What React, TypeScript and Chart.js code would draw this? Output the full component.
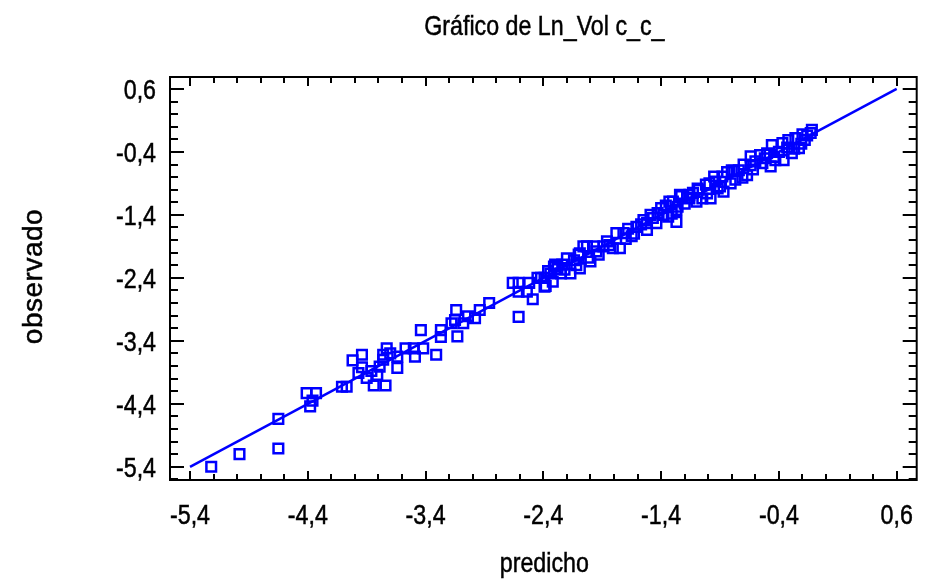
import { useEffect, useRef } from 'react';
import { Chart, registerables } from 'chart.js';

Chart.register(...registerables);

const chartTitle = 'Gráfico de Ln_Vol c_c_';
const xTitle = 'predicho';
const yTitle = 'observado';
const axisTicks = [-5.4, -4.4, -3.4, -2.4, -1.4, -0.4, 0.6];
const minorStep = 0.2;

const predicho = [
  -5.22, -4.98, -4.65, -4.65, -4.41, -4.33, -4.36, -4.38, -4.11, -4.07,
  -4.02, -3.94, -3.94, -3.97, -3.90, -3.84, -3.74, -3.81, -3.79, -3.76,
  -3.76, -3.73, -3.64, -3.64, -3.57, -3.50, -3.49, -3.42, -3.31, -3.44,
  -3.27, -3.27, -3.18, -3.13, -3.14, -3.15, -3.08, -3.04, -2.98, -2.94,
  -2.86, -2.61, -3.86, -3.70,
  -2.66, -2.61, -2.52, -2.61, -2.54, -2.49, -2.45, -2.39, -2.38, -2.34,
  -2.31, -2.42, -2.39, -2.32, -2.30, -2.24, -2.20, -2.25, -2.17, -2.09,
  -2.06, -1.97, -1.89, -2.09, -2.00, -1.93, -1.81, -1.75, -1.78, -1.72,
  -1.65, -1.61, -1.52, -1.52, -1.44, -1.43, -1.40, -1.33, -1.27, -1.34,
  -1.27, -1.24, -1.16, -1.10, -1.05, -0.98, -1.09, -0.99, -0.87, -1.30,
  -1.23, -1.16, -1.26, -1.08, -1.02, -0.94, -0.95, -0.88, -0.81, -0.80,
  -0.74, -0.67, -0.77, -0.71, -0.64, -0.56, -0.50, -0.64, -0.54, -0.47,
  -0.43, -0.36, -0.46, -0.37, -0.32, -0.29, -0.23, -0.26, -0.18, -0.13,
  -0.12,
  -2.28, -2.14, -2.12, -1.95, -1.86, -1.68, -1.57, -1.47, -1.38, -1.20,
  -1.13, -0.90, -0.84, -0.60, -0.52, -0.40, -0.33, -0.21, -0.16, -2.03,
  -2.10, -1.70, -1.55, -1.36, -0.70,
  -2.36, -2.22, -2.02, -1.84, -1.63, -1.49, -1.31, -1.18, -1.01, -0.92,
  -0.78, -0.62, -0.44, -0.27, -0.20,
];

const observado = [
  -5.40, -5.20, -5.11, -4.64, -4.23, -4.23, -4.35, -4.44, -4.13, -4.13,
  -3.71, -3.62, -3.82, -3.91, -3.99, -4.11, -4.11, -3.94, -3.81, -3.70,
  -3.62, -3.52, -3.65, -3.83, -3.52, -3.52, -3.65, -3.52, -3.62, -3.23,
  -3.23, -3.34, -3.12, -3.33, -2.91, -3.07, -3.12, -3.01, -3.04, -2.91,
  -2.80, -3.02, -3.88, -3.60,
  -2.48, -2.48, -2.48, -2.62, -2.62, -2.74, -2.40, -2.40, -2.53, -2.33,
  -2.22, -2.40, -2.54, -2.46, -2.19, -2.19, -2.09, -2.33, -2.33, -2.25,
  -1.90, -1.90, -1.90, -2.01, -2.14, -2.03, -1.93, -1.93, -1.69, -1.69,
  -1.74, -1.59, -1.53, -1.64, -1.53, -1.37, -1.29, -1.19, -1.51, -1.43,
  -1.32, -1.08, -1.08, -1.19, -1.14, -1.14, -0.98, -0.90, -1.03, -1.19,
  -1.10, -1.14, -1.27, -1.00, -0.92, -0.87, -0.79, -0.79, -0.90, -0.69,
  -0.69, -0.77, -0.84, -0.81, -0.47, -0.45, -0.42, -0.61, -0.58, -0.63,
  -0.53, -0.53, -0.29, -0.26, -0.21, -0.42, -0.34, -0.18, -0.21, -0.10,
  -0.05,
  -2.26, -2.12, -2.20, -1.98, -1.82, -1.62, -1.55, -1.45, -1.40, -1.22,
  -1.05, -0.95, -0.72, -0.55, -0.50, -0.40, -0.33, -0.27, -0.14, -1.90,
  -2.03, -1.78, -1.48, -1.25, -0.60,
  -2.29, -2.27, -2.08, -1.88, -1.70, -1.40, -1.38, -1.13, -1.06, -0.98,
  -0.70, -0.68, -0.48, -0.35, -0.12,
];

const lineX = [-5.4, 0.6];
const lineY = [-5.4, 0.6];

const BLUE = 'rgb(0,0,255)';
const FONT = "'Liberation Sans', Arial, sans-serif";

const fmt = (v: number) => v.toFixed(1).replace('.', ',');

function squeezedText(
  ctx: CanvasRenderingContext2D,
  text: string,
  x: number,
  y: number,
  align: CanvasTextAlign,
  size: number,
  sx: number,
) {
  ctx.save();
  ctx.font = `${size}px ${FONT}`;
  ctx.fillStyle = '#000';
  ctx.strokeStyle = '#000';
  ctx.lineWidth = 0.5;
  ctx.textAlign = align;
  ctx.textBaseline = 'alphabetic';
  ctx.translate(x, y);
  ctx.scale(sx, 1);
  ctx.fillText(text, 0, 0);
  ctx.strokeText(text, 0, 0);
  ctx.restore();
}

const framePlugin = {
  id: 'frameTicks',
  afterDraw(chart: any) {
    const { ctx, chartArea } = chart;
    const { left, right, top, bottom } = chartArea;
    const xs = chart.scales.x;
    const ys = chart.scales.y;
    ctx.save();
    ctx.strokeStyle = '#000';
    ctx.lineWidth = 2;
    ctx.strokeRect(left, top, right - left, bottom - top);
    const isMajor = (v: number) => axisTicks.some((t) => Math.abs(t - v) < 1e-6);
    const values = (scale: any) => {
      const out: number[] = [];
      const base = axisTicks[0];
      for (let k = -20; k <= 60; k++) {
        const v = Math.round((base + k * minorStep) * 1000) / 1000;
        if (v >= scale.min && v <= scale.max) out.push(v);
      }
      return out;
    };
    ctx.beginPath();
    for (const v of values(xs)) {
      const px = Math.round(xs.getPixelForValue(v));
      const len = isMajor(v) ? 9 : 6;
      ctx.moveTo(px, bottom);
      ctx.lineTo(px, bottom - len);
      ctx.moveTo(px, top);
      ctx.lineTo(px, top + len);
    }
    for (const v of values(ys)) {
      const py = Math.round(ys.getPixelForValue(v));
      const len = isMajor(v) ? 14 : 8;
      ctx.moveTo(left, py);
      ctx.lineTo(left + len, py);
      ctx.moveTo(right, py);
      ctx.lineTo(right - len, py);
    }
    ctx.stroke();
    ctx.restore();

    // tick labels
    for (const v of axisTicks) {
      const px = xs.getPixelForValue(v);
      squeezedText(ctx, fmt(v), px, 524, 'center', 27, 0.86);
      const py = ys.getPixelForValue(v);
      squeezedText(ctx, fmt(v), 156, py + 10, 'right', 27, 0.86);
    }
    // titles
    const cx = (left + right) / 2;
    squeezedText(ctx, chartTitle, cx + 1, 35, 'center', 28, 0.83);
    squeezedText(ctx, xTitle, cx + 1, 572, 'center', 28, 0.83);

    ctx.save();
    ctx.font = `28px ${FONT}`;
    (ctx as any).letterSpacing = '0.5px';
    ctx.fillStyle = '#000';
    ctx.strokeStyle = '#000';
    ctx.lineWidth = 0.5;
    ctx.textAlign = 'center';
    ctx.textBaseline = 'alphabetic';
    ctx.translate(42, (top + bottom) / 2 - 2);
    ctx.rotate(-Math.PI / 2);
    ctx.fillText(yTitle, 0, 0);
    ctx.strokeText(yTitle, 0, 0);
    ctx.restore();
  },
};

export default function App() {
  const ref = useRef<HTMLCanvasElement | null>(null);

  useEffect(() => {
    if (!ref.current) return;
    const points = predicho.map((x, i) => ({ x, y: observado[i] }));
    const line = lineX.map((x, i) => ({ x, y: lineY[i] }));
    const chart = new Chart(ref.current, {
      type: 'scatter',
      data: {
        datasets: [
          {
            label: 'ajuste',
            data: line,
            showLine: true,
            borderColor: BLUE,
            borderWidth: 2.5,
            pointRadius: 0,
            fill: false,
          },
          {
            label: 'observado',
            data: points,
            pointStyle: 'rect',
            pointRadius: 6.8,
            borderWidth: 2.5,
            borderColor: BLUE,
            backgroundColor: 'rgba(0,0,0,0)',
          },
        ],
      },
      options: {
        animation: false,
        responsive: false,
        maintainAspectRatio: false,
        layout: { padding: { left: 170, right: 4, top: 77, bottom: 107 } },
        plugins: {
          legend: { display: false },
          tooltip: { enabled: false },
          title: { display: false },
        },
        scales: {
          x: {
            type: 'linear',
            display: false,
            min: -5.57,
            max: 0.77,
          },
          y: {
            type: 'linear',
            display: false,
            min: -5.61,
            max: 0.79,
          },
        },
      },
      plugins: [framePlugin],
    });
    return () => chart.destroy();
  }, []);

  return (
    <div style={{ position: 'fixed', left: 0, top: 0, width: 926, height: 587, background: '#fff' }}>
      <canvas ref={ref} width={926} height={587} style={{ width: 926, height: 587, display: 'block' }} />
    </div>
  );
}
